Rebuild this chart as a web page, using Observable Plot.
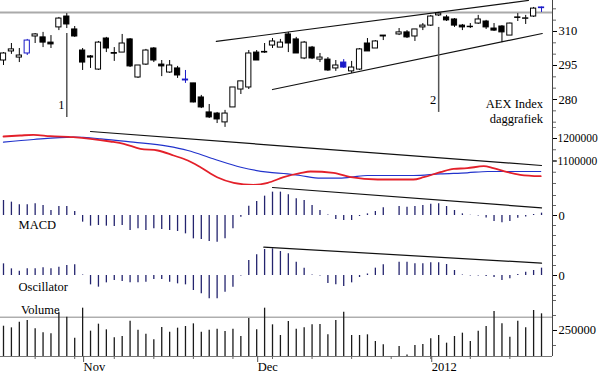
<!DOCTYPE html>
<html><head><meta charset="utf-8">
<script src="https://cdn.jsdelivr.net/npm/d3@7"></script>
<script src="https://cdn.jsdelivr.net/npm/@observablehq/plot@0.6"></script>
<style>
body{margin:0;background:#fff;}
#chart{width:600px;height:375px;overflow:hidden;background:#fff;}
#chart svg{display:block;}
</style></head><body><div id="chart"></div>
<script>
// ---- data (trading-day index 0 = 18 Oct 2011 ... 68 = 20 Jan 2012; 49 = 26 Dec holiday) ----
const openP = [297.2,301.2,298.5,300.3,307.8,307.4,305.1,311.8,316.6,310.9, 301.6,299.0,293.2,306.9,300.5,300.7,306.5,289.7,295.4,302.5, 295.4,291.9,293.7,288.8,287.1,280.9,274.3,273.8,269.9,276.5, 284.4,285.3,300.7,300.7,303.8,302.9,308.7,306.5,298.1,302.9, 297.6,297.6,293.7,296.3,292.4,293.2,304.7,302.5,307.8,null, 308.7,309.6,307.8,311.8,312.6,317.1,316.2,315.3,312.6,312.1, 313.5,314.4,311.3,312.2,308.2,316.2,315.6,316.6,320.3];
const highP = [300.7,304.7,302.5,306.5,309.1,309.6,308.2,316.2,317.9,312.2, 302.5,299.4,305.6,307.4,302.9,308.7,306.9,295.0,302.1,302.9, 297.2,297.2,294.6,292.8,287.1,281.8,277.8,274.3,275.2,285.3, 288.0,301.6,301.6,304.7,306.9,306.5,309.6,307.4,305.6,303.4, 300.3,298.5,297.2,297.6,296.8,302.5,306.9,306.0,308.2,null, 311.3,310.4,310.9,313.5,317.1,318.4,317.1,315.7,313.1,313.5, 317.1,314.9,313.5,312.6,313.7,317.9,317.1,320.6,320.8];
const lowP = [295.0,299.9,296.3,299.4,304.7,302.9,302.5,310.4,311.3,307.4, 292.8,293.7,292.8,300.7,296.8,300.7,294.1,289.3,295.0,296.3, 290.1,291.5,289.3,287.1,278.5,276.0,271.6,269.4,267.7,276.5, 282.2,284.4,297.2,300.3,302.5,302.9,300.7,300.3,297.6,297.6, 296.3,292.4,292.4,293.7,291.5,292.8,301.2,302.5,306.0,null, 308.2,306.9,305.6,310.4,312.2,316.6,314.4,311.8,310.4,311.3, 313.1,310.9,310.0,305.1,308.2,314.4,313.1,316.2,318.4];
const closeP = [300.3,302.1,299.4,306.0,308.7,305.1,304.3,315.7,313.1,307.8, 296.3,298.5,305.1,302.5,300.2,304.7,294.6,295.0,301.6,297.2, 294.6,295.0,290.6,288.4,278.7,276.5,272.1,271.2,273.8,285.3, 288.0,300.3,297.2,301.0,305.6,305.1,304.7,300.3,305.1,298.1, 298.5,292.8,295.0,294.1,294.1,302.1,301.2,305.6,308.2,null, 309.6,307.4,310.9,312.6,316.6,317.9,314.9,312.6,311.8,311.9, 315.3,311.8,310.4,309.6,313.5,316.0,315.8,320.1,320.6];
const signalIdx = [3, 23, 43, 68];
const volume = [264300,258900,277800,283300,255600,242200,238900,311100,294400,224400, 324400,247800,271100,252200,225600,230000,281100,251100,237800,218900, 260000,244400,257800,263300,272200,244400,251100,254400,246700,254400, 230000,290000,252200,324400,268900,233300,280000,254400,258900,268900, 270000,235600,283300,311100,233300,233300,235600,213300,202200,null, 196700,168000,200000,203300,222200,233300,207800,230000,241100,213300, 247800,263300,313300,272200,227800,281100,258900,316700,305600];
const macd = [3.0,2.67,2.13,2.13,2.33,2.0,1.0,1.8,1.8,0.8, -1.33,-2.13,-2.0,-2.13,-2.2,-2.0,-3.0,-2.67,-3.0,-2.67, -2.8,-3.0,-3.2,-3.67,-4.67,-4.8,-5.2,-5.33,-4.67,-2.67, -0.33,1.87,2.8,3.87,4.67,4.67,4.13,3.33,3.0,2.0, 1.0,0.1,-0.8,-1.0,-1.0,-0.2,0.33,0.8,1.53,null, 1.8,1.67,1.8,2.0,2.27,2.33,1.8,1.0,0.33,0.05, -0.1,-0.5,-1.2,-1.47,-1.2,-0.53,-0.3,0.2,0.47];
const osc = [2.33,1.33,0.87,1.33,1.33,1.53,1.33,1.67,2.0,2.13, 0.1,-1.87,-2.33,-1.47,-1.0,-1.2,-1.47,-1.47,-1.33,-0.8, -0.8,-1.33,-1.67,-1.87,-3.0,-3.67,-4.67,-4.67,-3.33,-2.33, -0.1,3.0,4.13,5.2,5.33,4.8,4.33,2.67,1.47,0.1, -0.1,-1.6,-1.87,-2.2,-1.47,-0.4,0.3,1.47,2.13,null, 2.67,2.67,2.33,2.33,2.53,2.53,2.2,1.0,0.1,-0.1, -0.1,-0.2,-0.4,-1.0,-0.67,0.2,0.67,1.0,1.47];
const redIdx = [0,2.1,3.8,5.9,8.8,11,13.5,15.2,17.3,19.5,21.5,23.3,24.9,27,29.1,31.6,33.4,35.4,37.5,38.8,41.7,43.9,47.3,51.8,53.1,55.2,56.9,58.6,60.7,61.9,63.7,65.3,67.9];
const redVal = [1208900,1213300,1216400,1210200,1205800,1198700,1186700,1176400,1154200,1146700,1124400,1102200,1072400,1028000,1003100,994200,1003100,1028000,1045800,1053300,1047600,1028000,1017800,1017800,1028000,1050200,1065300,1068000,1076900,1068000,1050200,1038700,1032400];
const blueIdx = [0,3.8,8.8,12.3,16.4,20.7,23.3,26.5,30,33.4,35.9,37.5,40.1,42.2,43.9,46,51.8,55.2,58.6,61.2,63.7,67.9];
const blueVal = [1183600,1195600,1205800,1198700,1183600,1165800,1146700,1109800,1072400,1050200,1043100,1035600,1023600,1023600,1028000,1035600,1035600,1043100,1047600,1053300,1053300,1053300];
// trend lines [index, value]
const priceUpper = [[26.9, 305.6], [66.35, 323.7]];
const priceLower = [[34.0, 284.4], [68.1, 309.1]];
const priceLevel = 318.4;
const maTrend = [[11.0, 1231100], [68.0, 1080000]];
const macdTrend = [[34.0, 5.6], [68.0, 1.53]];
const oscTrend = [[32.9, 5.67], [68.0, 2.47]];
const volLevel = 294400;
const markers = [{i: 8, y1: 272.1, y2: 309.1, label: "1", li: 7.7, lp: 277.4}, {i: 55, y1: 274.3, y2: 311.8, label: "2", li: 54.7, lp: 279.6}];
const titleLines = [{text: "AEX Index", p: 278.2}, {text: "daggrafiek", p: 271.6}];
const monthTickIdx = [10, 32, 54];
const monthTickLabels = ["Nov", "Dec", "2012"];
const weekTickIdx = [4,9,14,19,24,29,34,39,44,49,54,59,64];
const priceTicks = [310, 295, 280];
const maTicks = [1200000, 1100000];
const volTicks = [250000];

// ---- layout ----
const FONT = '"Liberation Serif", "Times New Roman", serif';
const xDom = [-0.379, 69.388];
const xEdge = 75.46;
const idx = d3.range(69);
const AX = "#444";

function axisLine(yDom) {
  return [
    Plot.ruleX([xDom[1]], {stroke: AX, strokeWidth: 1}),
    Plot.ruleY([yDom[0]], {x1: xDom[1], x2: xEdge, stroke: AX, strokeWidth: 1})
  ];
}
function rightAxis(major, minor, size = 12.5, pad = 2) {
  return [
    Plot.axisY({anchor: "right", ticks: minor, tickSize: 3, tickFormat: () => "", label: null, stroke: "#666"}),
    Plot.axisY({anchor: "right", ticks: major, tickSize: 4, tickPadding: pad, tickFormat: d => String(d), label: null, fontSize: size, fontFamily: FONT})
  ];
}
function panel(h, yDom, marks, extra = {}) {
  return Plot.plot({
    width: 600, height: h,
    marginLeft: 0, marginRight: 48, marginTop: 0, marginBottom: extra.mb || 0,
    x: extra.xAxis ? {domain: xDom, label: null} : {domain: xDom, axis: null, label: null},
    y: {domain: yDom, label: null},
    color: {type: "identity"},
    style: {fontFamily: FONT, fontSize: "12.5px", background: "white", color: "black"},
    marks
  });
}

const chart = document.getElementById("chart");

// price panel
const candles = idx.filter(i => openP[i] != null).map(i => ({
  i, o: openP[i], h: highP[i], l: lowP[i], c: closeP[i],
  col: signalIdx.includes(i) ? "#1a1ac8" : "#000"
}));
const pDom = [267.65, 323.67];
chart.append(panel(127, pDom, [
  Plot.ruleY([priceLevel], {stroke: "#aaa", strokeWidth: 2}),
  Plot.line(priceUpper, {x: d => d[0], y: d => d[1], stroke: "#111", strokeWidth: 1.2, clip: true}),
  Plot.line(priceLower, {x: d => d[0], y: d => d[1], stroke: "#111", strokeWidth: 1.2}),
  Plot.ruleX(markers, {x: "i", y1: "y1", y2: "y2", stroke: "#555", strokeWidth: 1.5}),
  Plot.text(markers, {x: "li", y: "lp", text: "label", textAnchor: "end", fontSize: 12.5, fontFamily: FONT}),
  Plot.ruleX(candles, {x: "i", y1: "l", y2: "h", stroke: "col", strokeWidth: 1}),
  Plot.rect(candles, {x1: d => d.i - 0.33, x2: d => d.i + 0.33, y1: "o", y2: "c",
    fill: d => d.c >= d.o ? "#fff" : d.col, stroke: "col", strokeWidth: 1}),
  Plot.text(titleLines, {x: 68.2, y: "p", text: "text", textAnchor: "end", fontSize: 12.5, fontFamily: FONT}),
  ...axisLine(pDom),
  ...rightAxis(priceTicks, d3.range(270, 324, 5))
]));

// moving averages panel
const maDom = [991111, 1248889];
chart.append(panel(58, maDom, [
  Plot.line(maTrend, {x: d => d[0], y: d => d[1], stroke: "#111", strokeWidth: 1.2}),
  Plot.line(blueIdx.map((x, k) => [x, blueVal[k]]), {x: d => d[0], y: d => d[1], stroke: "#2233cc", strokeWidth: 1.2, curve: "monotone-x"}),
  Plot.line(redIdx.map((x, k) => [x, redVal[k]]), {x: d => d[0], y: d => d[1], stroke: "#e3202a", strokeWidth: 1.8, curve: "monotone-x"}),
  ...axisLine(maDom),
  ...rightAxis(maTicks, d3.range(1000000, 1250001, 50000), 11.5, 1)
]));

// MACD panel
const mDom = [-5.6, 6.0];
chart.append(panel(58, mDom, [
  Plot.ruleX(idx.filter(i => macd[i] != null), {x: i => i, y1: 0, y2: i => macd[i], stroke: "#24246e", strokeWidth: 1.3}),
  Plot.line(macdTrend, {x: d => d[0], y: d => d[1], stroke: "#111", strokeWidth: 1.2}),
  Plot.text(["MACD"], {x: 1.9, y: -1.8, text: d => d, textAnchor: "start", fontSize: 12.5, fontFamily: FONT}),
  ...axisLine(mDom),
  ...rightAxis([0], [-4, -2, 2, 4])
]));

// Oscillator panel
const oDom = [-4.8, 6.4];
chart.append(panel(56, oDom, [
  Plot.ruleX(idx.filter(i => osc[i] != null), {x: i => i, y1: 0, y2: i => osc[i], stroke: "#24246e", strokeWidth: 1.3}),
  Plot.line(oscTrend, {x: d => d[0], y: d => d[1], stroke: "#111", strokeWidth: 1.2}),
  Plot.text(["Oscillator"], {x: 1.9, y: -2.2, text: d => d, textAnchor: "start", fontSize: 12.5, fontFamily: FONT}),
  ...axisLine(oDom),
  ...rightAxis([0], [-4, -2, 2, 4, 6])
]));

// Volume panel
const vDom = [163333, 353333];
chart.append(panel(76, vDom, [
  Plot.ruleY([volLevel], {stroke: "#888", strokeWidth: 1}),
  Plot.ruleX(idx.filter(i => volume[i] != null), {x: i => i, y1: vDom[0], y2: i => volume[i], stroke: "#1a1a1a", strokeWidth: 1.3}),
  Plot.text(["Volume"], {x: 2.2, y: 316667, text: d => d, textAnchor: "start", fontSize: 12.5, fontFamily: FONT}),
  Plot.ruleY([vDom[0]], {stroke: "#777", strokeWidth: 1}),
  Plot.ruleX([xDom[1]], {stroke: AX, strokeWidth: 1}),
  Plot.axisX({ticks: weekTickIdx, tickSize: 3, tickFormat: () => "", label: null, stroke: "#666"}),
  Plot.axisX({ticks: monthTickIdx, tickSize: 6, tickPadding: 0, label: null,
    tickFormat: d => monthTickLabels[monthTickIdx.indexOf(d)], textAnchor: "start", dx: 1,
    fontSize: 12.5, fontFamily: FONT, stroke: "#555"}),
  ...rightAxis(volTicks, [200000, 300000, 350000])
], {mb: 19, xAxis: true}));
</script></body></html>
